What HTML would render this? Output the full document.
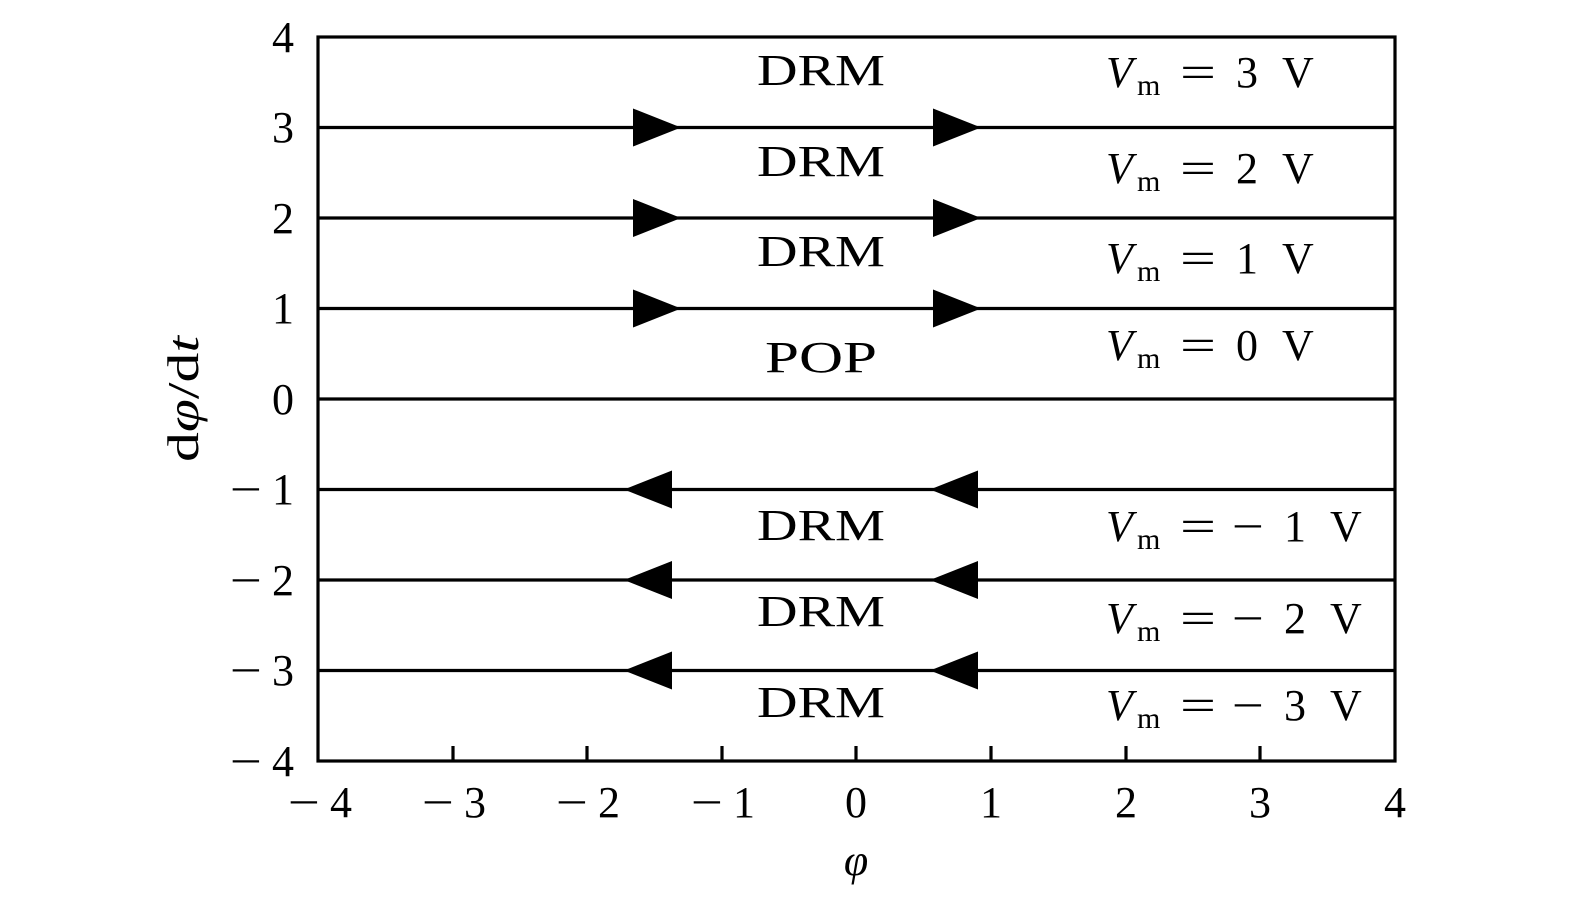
<!DOCTYPE html>
<html><head><meta charset="utf-8"><style>body{margin:0;background:#fff}svg{display:block}</style></head>
<body>
<svg width="1575" height="900" viewBox="0 0 1575 900" xmlns="http://www.w3.org/2000/svg" font-family="Liberation Serif, serif" fill="#000">
<g stroke="#000" stroke-width="3.2" fill="none">
<rect x="318" y="37" width="1077" height="724"/>
<line x1="318" y1="127.5" x2="1395" y2="127.5"/>
<line x1="318" y1="218" x2="1395" y2="218"/>
<line x1="318" y1="308.5" x2="1395" y2="308.5"/>
<line x1="318" y1="399" x2="1395" y2="399"/>
<line x1="318" y1="489.5" x2="1395" y2="489.5"/>
<line x1="318" y1="580" x2="1395" y2="580"/>
<line x1="318" y1="670.5" x2="1395" y2="670.5"/>
<line x1="453" y1="761" x2="453" y2="746"/>
<line x1="587" y1="761" x2="587" y2="746"/>
<line x1="722" y1="761" x2="722" y2="746"/>
<line x1="856" y1="761" x2="856" y2="746"/>
<line x1="991" y1="761" x2="991" y2="746"/>
<line x1="1126" y1="761" x2="1126" y2="746"/>
<line x1="1260" y1="761" x2="1260" y2="746"/>
</g>
<g>
<polygon points="633,108.5 633,146.5 681,127.5"/><polygon points="933,108.5 933,146.5 981,127.5"/>
<polygon points="633,199 633,237 681,218"/><polygon points="933,199 933,237 981,218"/>
<polygon points="633,289.5 633,327.5 681,308.5"/><polygon points="933,289.5 933,327.5 981,308.5"/>
<polygon points="672,470.5 672,508.5 624,489.5"/><polygon points="978,470.5 978,508.5 930,489.5"/>
<polygon points="672,561 672,599 624,580"/><polygon points="978,561 978,599 930,580"/>
<polygon points="672,651.5 672,689.5 624,670.5"/><polygon points="978,651.5 978,689.5 930,670.5"/>
</g>
<g font-size="44">
<text x="272" y="52">4</text><text x="272" y="142">3</text><text x="272" y="233">2</text><text x="272" y="323">1</text><text x="272" y="414">0</text>
<text x="272" y="504">1</text><text x="272" y="595">2</text><text x="272" y="685">3</text><text x="272" y="776">4</text>
<text x="230" y="504" textLength="32" lengthAdjust="spacingAndGlyphs">−</text><text x="230" y="595" textLength="32" lengthAdjust="spacingAndGlyphs">−</text><text x="230" y="685" textLength="32" lengthAdjust="spacingAndGlyphs">−</text><text x="230" y="776" textLength="32" lengthAdjust="spacingAndGlyphs">−</text>
<text x="288" y="817" textLength="32" lengthAdjust="spacingAndGlyphs">−</text><text x="330" y="817">4</text>
<text x="422" y="817" textLength="32" lengthAdjust="spacingAndGlyphs">−</text><text x="464" y="817">3</text>
<text x="556" y="817" textLength="32" lengthAdjust="spacingAndGlyphs">−</text><text x="598" y="817">2</text>
<text x="691" y="817" textLength="32" lengthAdjust="spacingAndGlyphs">−</text><text x="733" y="817">1</text>
</g>
<g font-size="44" text-anchor="middle">
<text x="856" y="817">0</text><text x="991" y="817">1</text><text x="1126" y="817">2</text><text x="1260" y="817">3</text><text x="1395" y="817">4</text>
<text x="856" y="875" font-style="italic">φ</text>
</g>
<g font-size="44">
<text x="757" y="85" textLength="128" lengthAdjust="spacingAndGlyphs">DRM</text><text x="757" y="176" textLength="128" lengthAdjust="spacingAndGlyphs">DRM</text><text x="757" y="266" textLength="128" lengthAdjust="spacingAndGlyphs">DRM</text><text x="765" y="372" textLength="112" lengthAdjust="spacingAndGlyphs">POP</text>
<text x="757" y="540" textLength="128" lengthAdjust="spacingAndGlyphs">DRM</text><text x="757" y="626" textLength="128" lengthAdjust="spacingAndGlyphs">DRM</text><text x="757" y="717" textLength="128" lengthAdjust="spacingAndGlyphs">DRM</text>
</g>
<text transform="translate(198,399) rotate(-90)" font-size="44" text-anchor="middle" textLength="126" lengthAdjust="spacingAndGlyphs">d<tspan font-style="italic">φ</tspan>/d<tspan font-style="italic">t</tspan></text>
<g font-size="44">
<text x="1106" y="87" font-style="italic">V</text><text x="1137" y="95" font-size="30">m</text><text x="1180" y="87" textLength="36" lengthAdjust="spacingAndGlyphs">=</text><text x="1236" y="87">3</text><text x="1282" y="87">V</text>
<text x="1106" y="183" font-style="italic">V</text><text x="1137" y="191" font-size="30">m</text><text x="1180" y="183" textLength="36" lengthAdjust="spacingAndGlyphs">=</text><text x="1236" y="183">2</text><text x="1282" y="183">V</text>
<text x="1106" y="273" font-style="italic">V</text><text x="1137" y="281" font-size="30">m</text><text x="1180" y="273" textLength="36" lengthAdjust="spacingAndGlyphs">=</text><text x="1236" y="273">1</text><text x="1282" y="273">V</text>
<text x="1106" y="360" font-style="italic">V</text><text x="1137" y="368" font-size="30">m</text><text x="1180" y="360" textLength="36" lengthAdjust="spacingAndGlyphs">=</text><text x="1236" y="360">0</text><text x="1282" y="360">V</text>
<text x="1106" y="541" font-style="italic">V</text><text x="1137" y="549" font-size="30">m</text><text x="1180" y="541" textLength="36" lengthAdjust="spacingAndGlyphs">=</text><text x="1232" y="541" textLength="32" lengthAdjust="spacingAndGlyphs">−</text><text x="1284" y="541">1</text><text x="1330" y="541">V</text>
<text x="1106" y="633" font-style="italic">V</text><text x="1137" y="641" font-size="30">m</text><text x="1180" y="633" textLength="36" lengthAdjust="spacingAndGlyphs">=</text><text x="1232" y="633" textLength="32" lengthAdjust="spacingAndGlyphs">−</text><text x="1284" y="633">2</text><text x="1330" y="633">V</text>
<text x="1106" y="720" font-style="italic">V</text><text x="1137" y="728" font-size="30">m</text><text x="1180" y="720" textLength="36" lengthAdjust="spacingAndGlyphs">=</text><text x="1232" y="720" textLength="32" lengthAdjust="spacingAndGlyphs">−</text><text x="1284" y="720">3</text><text x="1330" y="720">V</text>
</g>
</svg>
</body></html>
